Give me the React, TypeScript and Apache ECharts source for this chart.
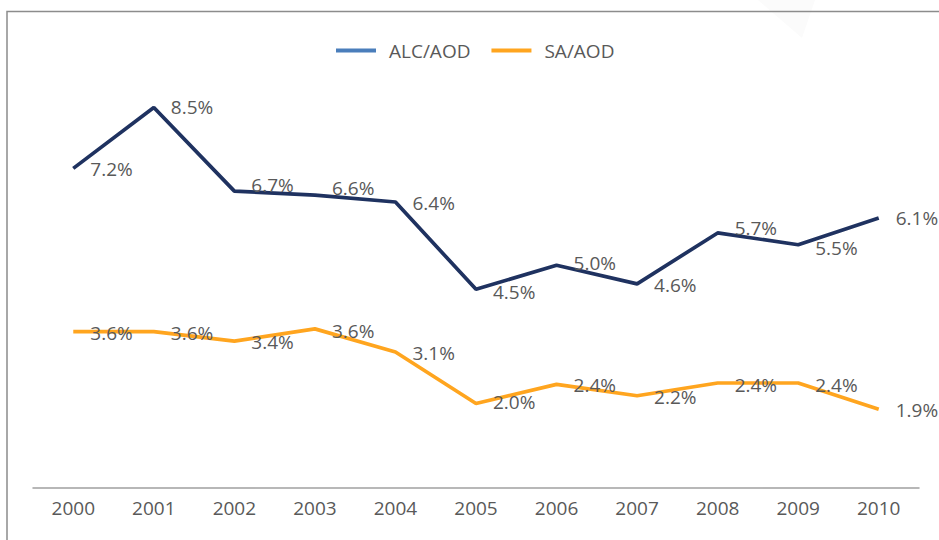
import React, { useEffect, useRef } from "react";
import * as echarts from "echarts";

const years = ["2000", "2001", "2002", "2003", "2004", "2005", "2006", "2007", "2008", "2009", "2010"];
const alcAod = [7.16, 8.5, 6.66, 6.57, 6.42, 4.5, 5.03, 4.62, 5.74, 5.48, 6.07];
const saAod = [3.57, 3.57, 3.36, 3.63, 3.12, 1.99, 2.41, 2.16, 2.44, 2.44, 1.86];
const seriesNames = ["ALC/AOD", "SA/AOD"];

// small vertical nudges of the data labels (styling only)
const alcLabelDy = [1, 0, -6, -7, 1, 3, -2, 1, -5, 3, 0];
const saLabelDy = [1, 1, 1, 2, 1, -1, 1, 1, 2, 2, 1];

const FONT = "'Open Sans', 'Noto Sans', sans-serif";
const TEXT = "#595959";

export default function App() {
  const ref = useRef<HTMLDivElement>(null);
  useEffect(() => {
    if (!ref.current) return;
    const chart = echarts.init(ref.current, null, { renderer: "svg" });
    const label = {
      show: true,
      position: "right" as const,
      distance: 17,
      color: TEXT,
      fontSize: 19,
      fontFamily: FONT,
      formatter: (p: any) => Number(p.value).toFixed(1) + "%",
    };
    const withOffsets = (vals: number[], dys: number[]) =>
      vals.map((v, i) => ({ value: v, label: { offset: [0, dys[i]] } }));
    chart.setOption({
      animation: false,
      backgroundColor: "#ffffff",
      graphic: [
        {
          type: "polygon",
          silent: true,
          shape: { points: [[758, 0], [815, 0], [802, 38]] },
          style: { fill: "#fbfbfb" },
        },
        {
          type: "rect",
          silent: true,
          shape: { x: 7, y: 11.5, width: 1000, height: 1000 },
          style: { fill: "none", stroke: "#8c8c8c", lineWidth: 1.5 },
        },
      ],
      legend: {
        top: 36,
        left: 331,
        itemWidth: 40,
        itemHeight: 4,
        itemGap: 21,
        icon: "rect",
        textStyle: { color: TEXT, fontSize: 19, fontFamily: FONT, padding: [0, 0, 0, 8] },
        data: [
          { name: seriesNames[0], itemStyle: { color: "#4a7ebb" } },
          { name: seriesNames[1], itemStyle: { color: "#ffa51f" } },
        ],
      },
      grid: { left: 33, right: 20, top: 62, bottom: 52 },
      xAxis: {
        type: "category",
        data: years,
        boundaryGap: true,
        axisLine: { lineStyle: { color: "#a0a0a0", width: 1.5 } },
        axisTick: { show: false },
        axisLabel: { color: TEXT, fontSize: 19, fontFamily: FONT, margin: 10 },
      },
      yAxis: {
        type: "value",
        min: 0.13,
        max: 9.5,
        show: false,
        splitLine: { show: false },
      },
      series: [
        {
          name: seriesNames[0],
          type: "line",
          data: withOffsets(alcAod, alcLabelDy),
          showSymbol: true,
          symbol: "circle",
          symbolSize: 0,
          lineStyle: { color: "#1f3260", width: 3.7 },
          itemStyle: { color: "#1f3260" },
          label,
        },
        {
          name: seriesNames[1],
          type: "line",
          data: withOffsets(saAod, saLabelDy),
          showSymbol: true,
          symbol: "circle",
          symbolSize: 0,
          lineStyle: { color: "#ffa51f", width: 3.7 },
          itemStyle: { color: "#ffa51f" },
          label,
        },
      ],
    });
    return () => chart.dispose();
  }, []);
  return (
    <div
      ref={ref}
      style={{ position: "absolute", left: 0, top: 0, width: 939, height: 540 }}
    />
  );
}
